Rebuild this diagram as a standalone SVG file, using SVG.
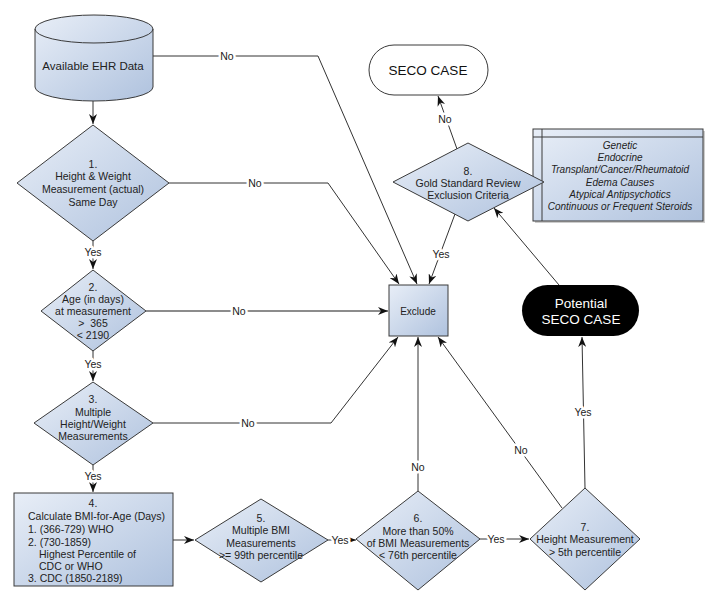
<svg xmlns="http://www.w3.org/2000/svg" width="716" height="600" viewBox="0 0 716 600">
<style>
.shape{fill:url(#g);stroke:#3a3a3a;stroke-width:1}
.t{font-family:"Liberation Sans",Arial,sans-serif;font-size:10.5px;fill:#222;text-anchor:middle}
.tl{font-family:"Liberation Sans",Arial,sans-serif;font-size:10.5px;fill:#222}
.ti{font-family:"Liberation Sans",Arial,sans-serif;font-size:10px;font-style:italic;fill:#222;text-anchor:middle}
.big{font-family:"Liberation Sans",Arial,sans-serif;font-size:13.5px;text-anchor:middle}
.c{fill:none;stroke:#333;stroke-width:1}
.lbl{font-family:"Liberation Sans",Arial,sans-serif;font-size:10.5px;fill:#222;text-anchor:middle;stroke:#fff;stroke-width:5;paint-order:stroke;stroke-linejoin:round}
</style>
<defs>
<linearGradient id="g" x1="0" y1="0" x2="1" y2="1">
<stop offset="0" stop-color="#e8eef7"/>
<stop offset="1" stop-color="#afc2de"/>
</linearGradient>
<marker id="a" viewBox="0 0 10 8" refX="10" refY="4" markerWidth="10" markerHeight="8" markerUnits="userSpaceOnUse" orient="auto">
<path d="M0,0 L10,4 L0,8 L3,4 Z" fill="#111"/>
</marker>
</defs>

<g id="connectors">
<path class="c" d="M93,100 L93,124" marker-end="url(#a)"/>
<path class="c" d="M153,56 L318,56 L417,284" marker-end="url(#a)"/>
<path class="c" d="M169,183 L328,183 L399,284" marker-end="url(#a)"/>
<path class="c" d="M93,241 L93,269" marker-end="url(#a)"/>
<path class="c" d="M146,311 L388,311" marker-end="url(#a)" style="stroke:#666;stroke-width:1.4"/>
<path class="c" d="M93,351 L93,381" marker-end="url(#a)"/>
<path class="c" d="M153,423 L331,423 L398,337" marker-end="url(#a)"/>
<path class="c" d="M93,465 L93,492" marker-end="url(#a)"/>
<path class="c" d="M173,540 L194,540" marker-end="url(#a)"/>
<path class="c" d="M328,540 L356,540" marker-end="url(#a)"/>
<path class="c" d="M480,539 L529,539" marker-end="url(#a)"/>
<path class="c" d="M418,491 L418,337" marker-end="url(#a)"/>
<path class="c" d="M562,508 L438,337" marker-end="url(#a)"/>
<path class="c" d="M585,488 L582,337" marker-end="url(#a)"/>
<path class="c" d="M559,285 L494,208" marker-end="url(#a)"/>
<path class="c" d="M455,214 L429,284" marker-end="url(#a)"/>
<path class="c" d="M457,149 L438,96" marker-end="url(#a)"/>
<text class="lbl" x="227" y="60">No</text>
<text class="lbl" x="255" y="187">No</text>
<text class="lbl" x="93" y="256">Yes</text>
<text class="lbl" x="239" y="315">No</text>
<text class="lbl" x="93" y="368">Yes</text>
<text class="lbl" x="248" y="427">No</text>
<text class="lbl" x="93" y="480">Yes</text>
<text class="lbl" x="340" y="544">Yes</text>
<text class="lbl" x="496" y="543">Yes</text>
<text class="lbl" x="418" y="471">No</text>
<text class="lbl" x="521" y="454">No</text>
<text class="lbl" x="583" y="416">Yes</text>
<text class="lbl" x="441" y="258">Yes</text>
<text class="lbl" x="445" y="123">No</text>
</g>

<g id="ehr">
<path class="shape" d="M35,29 A59,14 0 0 1 153,29 L153,87 A59,14 0 0 1 35,87 Z"/>
<path fill="none" stroke="#3a3a3a" d="M35,29 A59,14 0 0 0 153,29"/>
<text class="t" x="93" y="70" style="font-size:11.5px">Available EHR Data</text>
</g>

<g id="d1">
<polygon class="shape" points="93,125 169,183 93,241 17,183"/>
<text class="t" x="93" y="168">1.</text>
<text class="t" x="93" y="180">Height &amp; Weight</text>
<text class="t" x="93" y="193">Measurement (actual)</text>
<text class="t" x="93" y="206">Same Day</text>
</g>

<g id="d2">
<polygon class="shape" points="93,270 146,311 93,351 41,311"/>
<text class="t" x="93" y="291">2.</text>
<text class="t" x="93" y="303">Age (in days)</text>
<text class="t" x="93" y="315">at measurement</text>
<text class="t" x="93" y="327">&gt;&#160; 365</text>
<text class="t" x="93" y="339">&lt; 2190</text>
</g>

<g id="d3">
<polygon class="shape" points="93,382 153,423 93,465 34,423"/>
<text class="t" x="93" y="403">3.</text>
<text class="t" x="93" y="416">Multiple</text>
<text class="t" x="93" y="428">Height/Weight</text>
<text class="t" x="93" y="440">Measurements</text>
</g>

<g id="b4">
<rect class="shape" x="14" y="493" width="159" height="93"/>
<text class="t" x="93" y="507">4.</text>
<text class="tl" x="28" y="520">Calculate BMI-for-Age (Days)</text>
<text class="tl" x="28" y="533">1. (366-729) WHO</text>
<text class="tl" x="28" y="546">2. (730-1859)</text>
<text class="tl" x="39" y="558">Highest Percentile of</text>
<text class="tl" x="39" y="570">CDC or WHO</text>
<text class="tl" x="28" y="582">3. CDC (1850-2189)</text>
</g>

<g id="d5">
<polygon class="shape" points="261,499 328,540 261,582 195,540"/>
<text class="t" x="261" y="522">5.</text>
<text class="t" x="261" y="534">Multiple BMI</text>
<text class="t" x="261" y="547">Measurements</text>
<text class="t" x="261" y="559">&gt;= 99th percentile</text>
</g>

<g id="d6">
<polygon class="shape" points="418,491 480,539 418,590 356,539"/>
<text class="t" x="418" y="522">6.</text>
<text class="t" x="418" y="535">More than 50%</text>
<text class="t" x="418" y="547">of BMI Measurements</text>
<text class="t" x="418" y="559">&lt; 76th percentile</text>
</g>

<g id="d7">
<polygon class="shape" points="585,488 640,539 585,590 530,539"/>
<text class="t" x="585" y="531">7.</text>
<text class="t" x="585" y="543">Height Measurement</text>
<text class="t" x="585" y="556">&gt; 5th percentile</text>
</g>

<g id="exclude">
<rect class="shape" x="389" y="285" width="59" height="51"/>
<text class="t" x="418" y="315" style="font-size:10px">Exclude</text>
</g>

<g id="potential">
<rect x="522" y="285" width="117" height="51" rx="25.5" fill="#000"/>
<text class="big" x="581" y="308" fill="#fff">Potential</text>
<text class="big" x="581" y="324" fill="#fff">SECO CASE</text>
</g>

<g id="seco">
<rect x="369" y="45" width="119" height="50" rx="25" fill="#fff" stroke="#3a3a3a"/>
<text class="big" x="428" y="75" fill="#111">SECO CASE</text>
</g>

<g id="criteria">
<rect x="535" y="131" width="170" height="92" fill="#999" opacity="0.5"/>
<rect class="shape" x="533" y="129" width="170" height="92"/>
<line x1="533" y1="137" x2="703" y2="137" stroke="#3a3a3a"/>
<line x1="542" y1="129" x2="542" y2="221" stroke="#3a3a3a"/>
<text class="ti" x="620" y="149">Genetic</text>
<text class="ti" x="620" y="161">Endocrine</text>
<text class="ti" x="620" y="173">Transplant/Cancer/Rheumatoid</text>
<text class="ti" x="620" y="186">Edema Causes</text>
<text class="ti" x="620" y="198">Atypical Antipsychotics</text>
<text class="ti" x="620" y="210">Continuous or Frequent Steroids</text>
</g>

<g id="d8">
<polygon class="shape" points="468,143 544,182 468,221 393,182"/>
<text class="t" x="468" y="175">8.</text>
<text class="t" x="468" y="187">Gold Standard Review</text>
<text class="t" x="468" y="199">Exclusion Criteria</text>
</g>
</svg>
